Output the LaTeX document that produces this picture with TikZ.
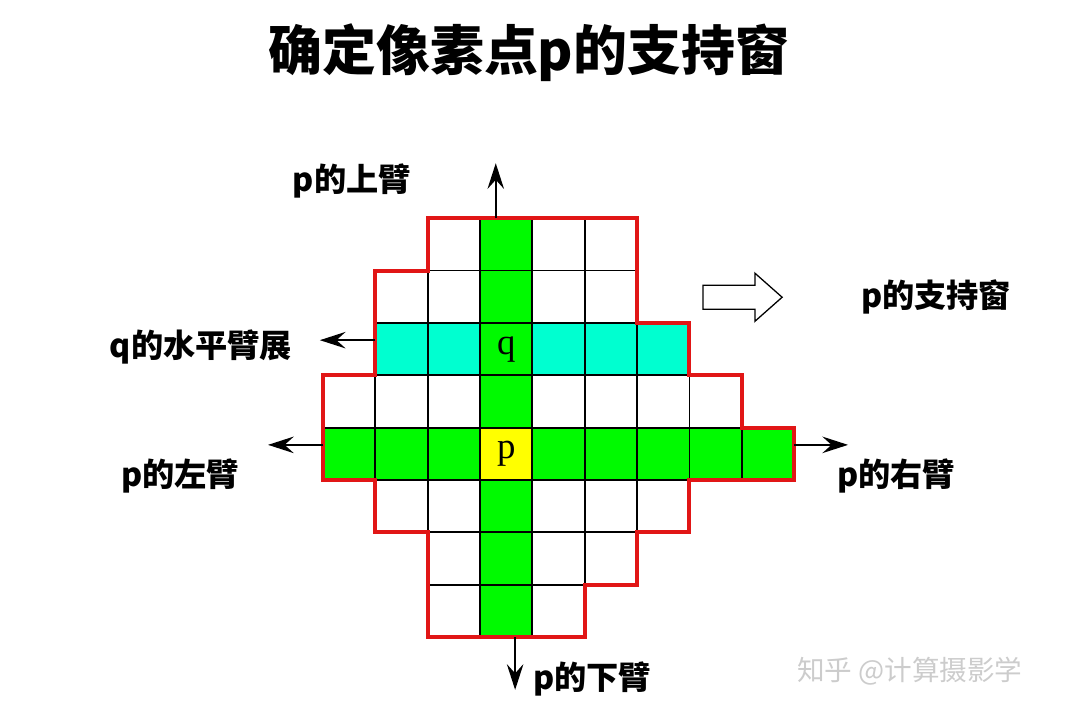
\documentclass[tikz,border=0pt]{standalone}
\usepackage{fontspec}
\usetikzlibrary{arrows.meta}
\newfontfamily\cjk{Noto Sans CJK SC}
\newfontfamily\cellfont{Liberation Serif}
\definecolor{winred}{RGB}{225,22,22}
\definecolor{armgreen}{RGB}{0,250,0}
\definecolor{rowcyan}{RGB}{0,255,208}
\definecolor{pyellow}{RGB}{255,255,0}
\tikzset{
  cell/.style={draw=black, line width=1pt},
  window/.style={draw=winred, line width=2.2pt, line join=miter},
  armarrow/.style={-{Stealth[length=14pt,width=9pt,inset=5pt]}, line width=0.8pt},
  armtext/.style={font=\cjk\bfseries\fontsize{17.5}{20}\selectfont, inner sep=0pt},
  celltext/.style={font=\cellfont\fontsize{20}{22}\selectfont, inner sep=0pt}
}
\begin{document}
\begin{tikzpicture}[x=1cm,y=1cm]
\useasboundingbox (-6.17,-1.566) rectangle (14.46,12.168);
% coloured cells
\fill[rowcyan] (1,5) rectangle (7,6);
\fill[armgreen] (0,3) rectangle (9,4);
\fill[armgreen] (3,0) rectangle (4,8);
\fill[pyellow] (3,3) rectangle (4,4);
% grid, one row at a time: row/left/right
\foreach \j/\a/\b in {0/2/5,1/2/6,2/1/7,3/0/9,4/0/8,5/1/7,6/1/6,7/2/6}
  \draw[cell] (\a,\j) grid (\b,\j+1);
% support window
\draw[window] (2,0) -- (5,0) -- (5,1) -- (6,1) -- (6,2) -- (7,2) -- (7,3) -- (9,3)
  -- (9,4) -- (8,4) -- (8,5) -- (7,5) -- (7,6) -- (6,6) -- (6,8) -- (2,8) -- (2,7)
  -- (1,7) -- (1,5) -- (0,5) -- (0,3) -- (1,3) -- (1,2) -- (2,2) -- cycle;
\node[celltext] (q) at (3.5,5.5) {q};
\node[celltext] (p) at (3.5,3.5) {p};
% arms
\coordinate (upS) at (3.3,8);
\coordinate (upE) at (3.3,9.05);
\coordinate (downS) at (3.67,0);
\coordinate (downE) at (3.67,-1.01);
\coordinate (qS) at (1,5.67);
\coordinate (qE) at (-0.06,5.67);
\coordinate (leftS) at (0,3.67);
\coordinate (leftE) at (-1.05,3.67);
\coordinate (rightS) at (9,3.67);
\coordinate (rightE) at (10.03,3.67);
\draw[armarrow] (upS) -- (upE);
\draw[armarrow] (downS) -- (downE);
\draw[armarrow] (qS) -- (qE);
\draw[armarrow] (leftS) -- (leftE);
\draw[armarrow] (rightS) -- (rightE);
% labels
\node[font=\cjk\bfseries\fontsize{29.3}{32}\selectfont, inner sep=0pt] (title) at (3.93,11.17) {确定像素点p的支持窗};
\node[armtext] (upL) at (0.55,8.71) {p的上臂};
\node[armtext] (qL) at (-2.33,5.54) {q的水平臂展};
\node[armtext] (leftL) at (-2.73,3.08) {p的左臂};
\node[armtext] (rightL) at (10.95,3.08) {p的右臂};
\node[armtext] (downL) at (5.14,-0.80) {p的下臂};
\node[armtext] (winL) at (11.71,6.49) {p的支持窗};
% hollow arrow
\draw[line width=0.7pt, fill=white] (7.26,6.26) -- (8.25,6.26) -- (8.25,6.03) -- (8.77,6.49)
  -- (8.25,6.95) -- (8.25,6.72) -- (7.26,6.72) -- cycle;
\node[font=\cjk\fontsize{15}{17}\selectfont, text=black!20, inner sep=0pt] (mark) at (11.21,-0.65) {知乎 @计算摄影学};
\end{tikzpicture}
\end{document}
